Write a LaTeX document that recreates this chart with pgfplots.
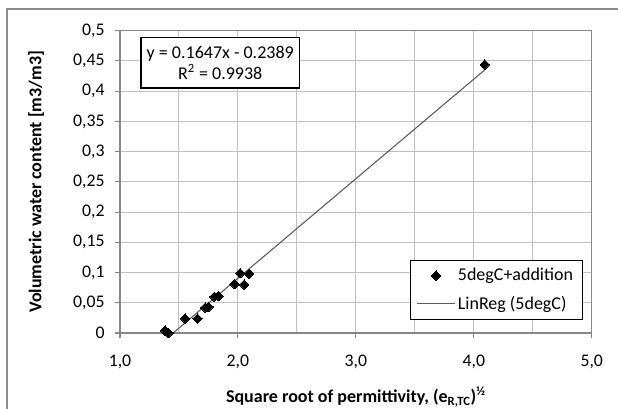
\documentclass[border=0pt]{standalone}
\usepackage{fontspec}
\setmainfont{Carlito}
\usepackage{pgfplots}
\pgfplotsset{compat=1.18}
\definecolor{axisgray}{HTML}{868686}
\definecolor{gridgray}{HTML}{C0C0C0}
\definecolor{framegray}{HTML}{8C8C8C}
\definecolor{trendgray}{HTML}{595959}

\begin{document}
\begin{tikzpicture}
\begin{axis}[
    at={(0pt,0pt)}, anchor=south west,
    scale only axis,
    width=353.8pt, height=226.7pt,
    xmin=1, xmax=5, ymin=0, ymax=0.5,
    xtick={1,2,3,4,5},
    minor xtick={1.5,2.5,3.5,4.5},
    ytick={0,0.05,0.1,0.15,0.2,0.25,0.3,0.35,0.4,0.45,0.5},
    grid=both,
    major grid style={gridgray, line width=0.8pt},
    minor grid style={gridgray, line width=0.8pt},
    axis line style={axisgray, line width=0.8pt},
    tick style={axisgray, line width=0.8pt},
    tick align=outside, tick pos=left,
    major tick length=4pt, minor tick length=0pt,
    /pgf/number format/assume math mode=true,
    tick label style={font=\fontsize{13.3}{15}\selectfont, black},
    x tick label style={yshift=-9pt, /pgf/number format/.cd, fixed, fixed zerofill, precision=1, use comma},
    y tick label style={xshift=-4pt, /pgf/number format/.cd, fixed, precision=2, use comma},
    xlabel={Square root of permittivity, (e\textsubscript{R,TC})\textsuperscript{½}},
    ylabel={Volumetric water content [m3/m3]},
    xlabel style={at={(axis description cs:0.5,-0.212)}, anchor=center, font=\bfseries\fontsize{13.5}{16}\selectfont},
    ylabel style={at={(axis description cs:-0.178,0.5)}, anchor=center, font=\bfseries\fontsize{13.5}{16}\selectfont},
    legend style={at={(axis description cs:0.9816,0.043)}, anchor=south east,
        draw=black, line width=0.9pt, font=\fontsize{13.5}{16}\selectfont,
        inner xsep=5pt, inner ysep=4pt, row sep=6pt},
    legend cell align=left,
    legend image code/.code={\draw[mark repeat=2,mark phase=2,#1] plot coordinates {(0pt,0pt)(14pt,0pt)(28pt,0pt)};},
]
\addplot[only marks, mark=square*, mark size=2.5pt, mark options={rotate=45, black, line width=0pt}]
coordinates {
    (1.382,0.004) (1.410,0.000) (1.552,0.024) (1.657,0.024)
    (1.722,0.042) (1.750,0.043) (1.800,0.060) (1.835,0.061)
    (1.971,0.081) (2.019,0.099) (2.053,0.080) (2.095,0.098)
    (4.093,0.444)
};
\addlegendentry{5degC+addition}
\addplot[trendgray, line width=0.8pt, no marks]
coordinates {(1.382,-0.0113) (4.093,0.4352)};
\addlegendentry{LinReg (5degC)}
\node[draw=black, line width=1.1pt, fill=white, align=center,
      minimum width=119pt, minimum height=38pt, inner sep=2pt,
      font=\fontsize{13.5}{16}\selectfont]
    at (axis cs:1.85,0.447) {y = 0.1647x - 0.2389\\R\textsuperscript{2} = 0.9938};
\end{axis}
\draw[framegray, line width=1.1pt] (-84.75pt,-70pt) -- (-84.75pt,243pt) -- (380pt,243pt);
\pgfresetboundingbox
\useasboundingbox (-90pt,-57pt) rectangle (373.5pt,249.75pt);
\end{tikzpicture}
\end{document}
